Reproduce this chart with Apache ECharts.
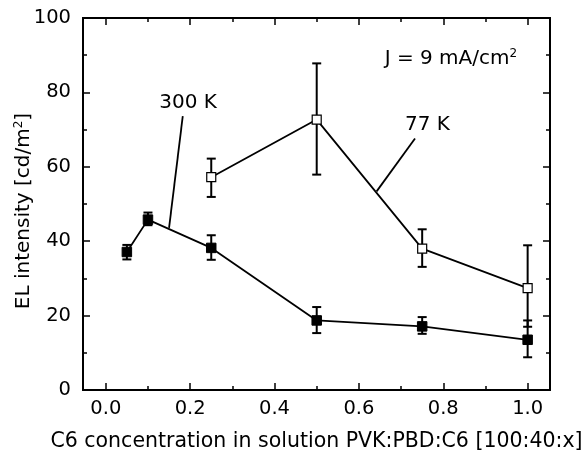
<!DOCTYPE html>
<html>
<head>
<meta charset="utf-8">
<script src="https://cdn.jsdelivr.net/npm/echarts@6/dist/echarts.min.js"></script>
<style>
html,body{margin:0;padding:0;background:#fff;}
#c{width:588px;height:455px;}
</style>
</head>
<body>
<div id="c"></div>
<script>
// ---- data ----
var x300 = [0.05, 0.1, 0.25, 0.5, 0.75, 1.0];
var y300 = [37.1, 45.8, 38.2, 18.7, 17.1, 13.5];
var lo300 = [35.1, 44.3, 35.0, 15.3, 15.1, 8.8];
var hi300 = [39.0, 47.7, 41.6, 22.3, 19.6, 18.7];

var x77 = [0.25, 0.5, 0.75, 1.0];
var y77 = [57.2, 72.7, 38.0, 27.4];
var lo77 = [51.9, 57.9, 33.1, 17.0];
var hi77 = [62.2, 87.8, 43.2, 38.9];

var xMajorTicks = [0, 0.2, 0.4, 0.6, 0.8, 1.0];
var xMinorTicks = [0.1, 0.3, 0.5, 0.7, 0.9];

// annotation leader lines (data coords)
var lead300 = [[0.1825, 73.6], [0.15, 43.6]];
var lead77 = [[0.733, 67.6], [0.642, 53.4]];
var label300 = [0.195, 77.3];
var label77 = [0.7625, 71.2];
var labelJ = [0.818, 89.0];

var FONT = '"DejaVu Sans", "Liberation Sans", Arial, sans-serif';

function zip(a, b) { return a.map(function (v, i) { return [v, b[i]]; }); }
function errData(xs, lo, hi) { return xs.map(function (v, i) { return [v, lo[i], hi[i]]; }); }

function errRender(params, api) {
  var x = api.value(0);
  var p1 = api.coord([x, api.value(1)]);
  var p2 = api.coord([x, api.value(2)]);
  var w = 4.5;
  var st = { stroke: '#000', lineWidth: 2 };
  return {
    type: 'group',
    children: [
      { type: 'line', shape: { x1: p1[0], y1: p1[1], x2: p2[0], y2: p2[1] }, style: st },
      { type: 'line', shape: { x1: p1[0] - w, y1: p1[1], x2: p1[0] + w, y2: p1[1] }, style: st },
      { type: 'line', shape: { x1: p2[0] - w, y1: p2[1], x2: p2[0] + w, y2: p2[1] }, style: st }
    ]
  };
}

var XMIN = -0.054, XMAX = 1.053;
var axLine = { show: true, onZero: false, lineStyle: { color: '#000', width: 2 } };

function xAx(pos, ticks, len, labels) {
  return {
    type: 'value', position: pos, min: XMIN, max: XMAX,
    axisLine: axLine,
    axisTick: { show: true, inside: true, length: len, customValues: ticks, lineStyle: { color: '#000', width: 1.5 } },
    axisLabel: labels ? {
      show: true, customValues: ticks, color: '#000', fontSize: 19.5, fontFamily: FONT, margin: 9,
      formatter: function (v) { return v.toFixed(1); }
    } : { show: false },
    splitLine: { show: false }
  };
}

function yAx(pos, labels) {
  return {
    type: 'value', position: pos, min: 0, max: 100, interval: 20,
    axisLine: axLine,
    axisTick: { show: true, inside: true, length: 7, lineStyle: { color: '#000', width: 1.5 } },
    minorTick: { show: true, splitNumber: 2, length: 4, lineStyle: { color: '#000', width: 1.5 } },
    axisLabel: labels ? { show: true, color: '#000', fontSize: 19.5, fontFamily: FONT, margin: 12 } : { show: false },
    splitLine: { show: false },
    name: labels ? '{a|EL intensity [cd/m}{s|2}{a|]}' : '',
    nameLocation: 'middle', nameGap: 48, nameMoveOverlap: false,
    nameTextStyle: {
      padding: [0, 14, 0, 0],
      rich: {
        a: { fontSize: 20, fontFamily: FONT, color: '#000' },
        s: { fontSize: 12, fontFamily: FONT, color: '#000', verticalAlign: 'top', padding: [0, 0, 10, 0] }
      }
    }
  };
}

var xb = xAx('bottom', xMajorTicks, 7, true);
xb.name = 'C6 concentration in solution PVK:PBD:C6 [100:40:x]';
xb.nameLocation = 'middle';
xb.nameGap = 41;
xb.nameMoveOverlap = false;
xb.nameTextStyle = { fontSize: 20.5, fontFamily: FONT, color: '#000' };

var option = {
  backgroundColor: '#fff',
  animation: false,
  grid: { left: 83, right: 38, top: 18, bottom: 65, containLabel: false, outerBoundsMode: 'none' },
  xAxis: [
    xb,
    xAx('bottom', xMinorTicks, 4, false),
    xAx('top', xMajorTicks, 7, false),
    xAx('top', xMinorTicks, 4, false)
  ],
  yAxis: [yAx('left', true), yAx('right', false)],
  series: [
    { type: 'custom', renderItem: errRender, data: errData(x300, lo300, hi300), z: 2, encode: { x: 0, y: [1, 2] } },
    { type: 'custom', renderItem: errRender, data: errData(x77, lo77, hi77), z: 2, encode: { x: 0, y: [1, 2] } },
    {
      type: 'line', data: zip(x300, y300), symbol: 'rect', symbolSize: 9.5,
      lineStyle: { color: '#000', width: 1.8 }, itemStyle: { color: '#000', borderColor: '#000', borderWidth: 1 }, z: 3
    },
    {
      type: 'line', data: zip(x77, y77), symbol: 'rect', symbolSize: 9,
      lineStyle: { color: '#000', width: 1.8 }, itemStyle: { color: '#fff', borderColor: '#000', borderWidth: 1.2 }, z: 3
    },
    { type: 'line', data: lead300, symbol: 'none', lineStyle: { color: '#000', width: 1.8 }, z: 3 },
    { type: 'line', data: lead77, symbol: 'none', lineStyle: { color: '#000', width: 1.8 }, z: 3 },
    {
      type: 'scatter', symbolSize: 0, z: 4,
      itemStyle: { opacity: 1, color: '#000' },
      data: [
        { value: label300, label: { formatter: '300 K' } },
        { value: label77, label: { formatter: '77 K' } },
        { value: labelJ, label: { formatter: '{a|J = 9 mA/cm}{s|2}' } }
      ],
      label: {
        show: true, position: 'inside', color: '#000', fontSize: 20, fontFamily: FONT,
        textBorderWidth: 0, opacity: 1,
        rich: {
          a: { fontSize: 20, fontFamily: FONT, color: '#000' },
          s: { fontSize: 12, fontFamily: FONT, color: '#000', verticalAlign: 'top', padding: [0, 0, 10, 0] }
        }
      }
    }
  ]
};

var chart = echarts.init(document.getElementById('c'), null, { renderer: 'canvas' });
chart.setOption(option);
</script>
</body>
</html>
